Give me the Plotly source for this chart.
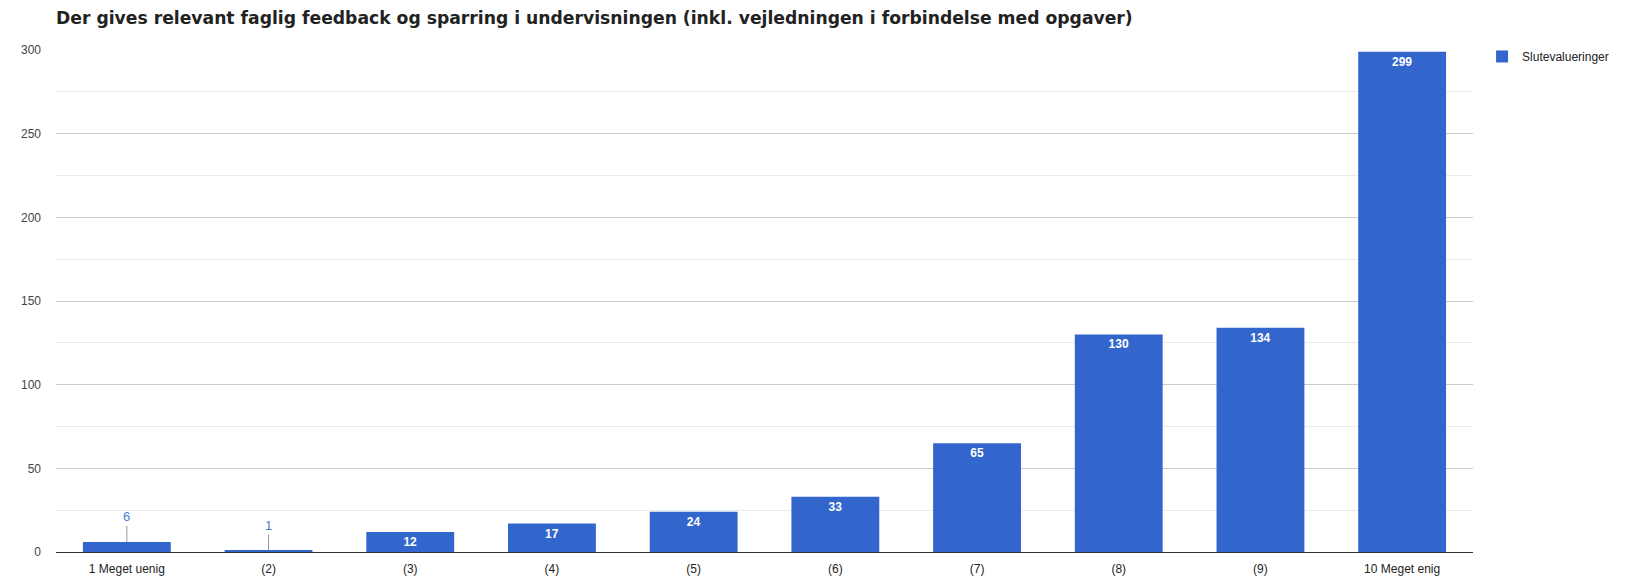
import plotly.graph_objects as go

categories = ["1 Meget uenig", "(2)", "(3)", "(4)", "(5)", "(6)", "(7)", "(8)", "(9)", "10 Meget enig"]
values = [6, 1, 12, 17, 24, 33, 65, 130, 134, 299]
series_name = "Slutevalueringer"
title_text = "Der gives relevant faglig feedback og sparring i undervisningen (inkl. vejledningen i forbindelse med opgaver)"
y_ticks = [0, 50, 100, 150, 200, 250, 300]

SMALL = 10
bar_color = "#3366cc"

texts = [str(v) if v >= SMALL else "" for v in values]

# page body has an 8px margin; figure sized/offset to compensate
W, H = 1631, 574

fig = go.Figure()
fig.add_trace(go.Bar(
    x=categories, y=values, name=series_name,
    marker=dict(color=bar_color, line=dict(width=0)),
    width=0.62,
    text=texts, texttemplate="<b>%{text}</b>", textposition="inside", insidetextanchor="end",
    textfont=dict(family="Arial, Liberation Sans", size=12, color="white"),
    constraintext="none", cliponaxis=False,
    hoverinfo="x+y",
))

annotations = []
for c, v in zip(categories, values):
    if v < SMALL:
        annotations.append(dict(
            x=c, y=v, xref="x", yref="y", text=str(v),
            showarrow=True, arrowhead=0, arrowwidth=1, arrowcolor="#999999",
            ax=0, ay=-25, standoff=0,
            font=dict(family="Arial, Liberation Sans", size=13, color="#4a7fd6"),
        ))

fig.update_layout(
    width=W, height=H,
    margin=dict(l=48, r=166, t=42, b=30),
    paper_bgcolor="white", plot_bgcolor="white",
    title=dict(text="<b>" + title_text + "</b>", x=0, xref="paper", xanchor="left",
               y=1 - 10 / H, yanchor="middle", yref="container",
               font=dict(family="DejaVu Sans", size=17.2, color="#222222")),
    showlegend=True,
    legend=dict(x=1.0064, xanchor="left", y=1.016, yanchor="top",
                font=dict(family="Arial, Liberation Sans", size=12, color="#222222"),
                bgcolor="rgba(0,0,0,0)"),
    annotations=annotations,
    font=dict(family="Arial, Liberation Sans"),
)
fig.update_xaxes(
    type="category", showgrid=False, showline=True, linecolor="#333333", linewidth=1,
    ticks="", tickfont=dict(size=12, color="#222222"), ticklabelstandoff=6,
    automargin=False, fixedrange=True,
)
fig.update_yaxes(
    range=[0, 300], tickvals=y_ticks, showgrid=True, gridcolor="#cccccc", gridwidth=1,
    zeroline=True, zerolinecolor="#333333", zerolinewidth=1,
    minor=dict(dtick=25, showgrid=True, gridcolor="#ebebeb", gridwidth=1),
    tickfont=dict(size=12, color="#444444"), ticks="", ticklabelstandoff=14,
    automargin=False, fixedrange=True,
)

fig.write_html("out.html")
